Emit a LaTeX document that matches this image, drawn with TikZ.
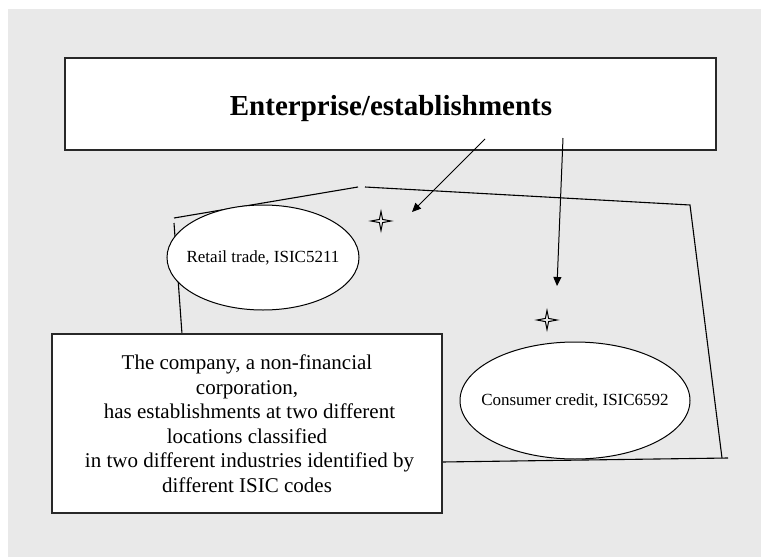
\documentclass[tikz,border=0pt]{standalone}
\usepackage{fontspec}
\setmainfont{Liberation Serif}
\usetikzlibrary{shapes.geometric,arrows.meta}
\definecolor{bggray}{RGB}{233,233,233}
\definecolor{edgegray}{RGB}{40,40,40}
\tikzset{
  boxstyle/.style={draw=edgegray, line width=1.5pt, fill=white, inner sep=0pt},
  ovalstyle/.style={ellipse, draw=black, line width=1pt, fill=white, inner sep=0pt},
  ovaltext/.style={font=\fontsize{17}{20}\selectfont, inner sep=0pt},
  outline/.style={draw=black, line width=1.1pt},
  arrowline/.style={draw=black, line width=1pt, -{Triangle[length=9pt,width=8pt]}},
  starstyle/.style={draw=black, line width=1pt, line join=miter}
}
\begin{document}
\begin{tikzpicture}[x=1pt,y=-1pt]
\useasboundingbox (0,0) rectangle (761,557);
\fill[bggray] (8,9) rectangle (761,557);

% top box
\node[boxstyle, minimum width=651pt, minimum height=92pt] (top) at (390.5,104) {};
\node[anchor=base, inner sep=0pt, font=\fontsize{29}{34}\selectfont\bfseries] (title) at (391,115) {Enterprise/establishments};

% outline polygon (drawn before ovals)
\coordinate (p1) at (174,218);
\coordinate (p2) at (358,187);
\coordinate (p3) at (365,187);
\coordinate (p4) at (690,205);
\coordinate (p5) at (722,458);
\coordinate (p6) at (442,462);
\coordinate (p7) at (728,458);
\coordinate (p8) at (174,223);
\coordinate (p9) at (182,334);
\draw[outline] (p1) -- (p2);
\draw[outline] (p3) -- (p4) -- (p5);
\draw[outline] (p6) -- (p7);
\draw[outline] (p8) -- (p9);

% ovals
\node[ovalstyle, minimum width=192pt, minimum height=105pt] (retail) at (263,257.5) {};
\node[ovaltext] (retailtext) at (retail.center) {Retail trade, ISIC5211};
\node[ovalstyle, minimum width=230pt, minimum height=117pt] (credit) at (575,400.5) {};
\node[ovaltext] (credittext) at (credit.center) {Consumer credit, ISIC6592};

% description box
\node[boxstyle, minimum width=390pt, minimum height=179pt, align=center, font=\fontsize{21}{24.5}\selectfont] (company) at (247,423.5)
 {The company, a non-financial\\ corporation,\\ \hspace*{5pt}has establishments at two different\\ locations classified\\ \hspace*{5pt}in two different industries identified by\\ different ISIC codes};

% stars
\coordinate (star1) at (381,221);
\coordinate (star2) at (547,320);
\foreach \s in {star1,star2}{
  \draw[starstyle, shift={(\s)}] (0,-9.5) -- (1.6,-1.6) -- (10,0) -- (1.6,1.6) -- (0,9.5) -- (-1.6,1.6) -- (-10,0) -- (-1.6,-1.6) -- cycle;
}

% arrows
\coordinate (a1s) at (485,139);
\coordinate (a1e) at (412,212);
\coordinate (a2s) at (563,138);
\coordinate (a2e) at (557,286);
\draw[arrowline] (a1s) -- (a1e);
\draw[arrowline] (a2s) -- (a2e);
\end{tikzpicture}
\end{document}
